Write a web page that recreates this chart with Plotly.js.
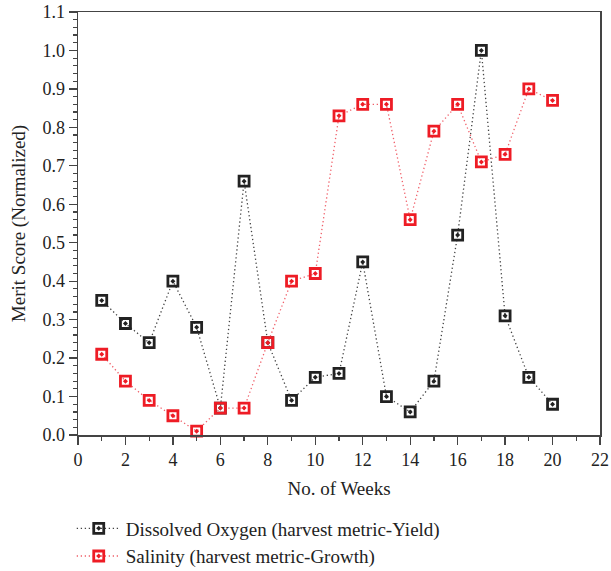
<!DOCTYPE html>
<html>
<head>
<meta charset="utf-8">
<script src="https://cdn.plot.ly/plotly-3.0.1.min.js"></script>
<style>
  html, body { margin: 0; padding: 0; background: #fff; }
  #chart { width: 611px; height: 571px; }
</style>
</head>
<body>
<div id="chart"></div>
<script>
// Weekly merit scores (normalized) for the two harvest metrics
const weeks = [1, 2, 3, 4, 5, 6, 7, 8, 9, 10, 11, 12, 13, 14, 15, 16, 17, 18, 19, 20];
const dissolvedOxygen = [0.35, 0.29, 0.24, 0.40, 0.28, 0.07, 0.66, 0.24, 0.09, 0.15,
                         0.16, 0.45, 0.10, 0.06, 0.14, 0.52, 1.00, 0.31, 0.15, 0.08];
const salinity = [0.21, 0.14, 0.09, 0.05, 0.01, 0.07, 0.07, 0.24, 0.40, 0.42,
                  0.83, 0.86, 0.86, 0.56, 0.79, 0.86, 0.71, 0.73, 0.90, 0.87];
const seriesNames = ['Dissolved Oxygen (harvest metric-Yield)', 'Salinity (harvest metric-Growth)'];
const xTickVals = [0, 2, 4, 6, 8, 10, 12, 14, 16, 18, 20, 22];
const yTickVals = [0, 0.1, 0.2, 0.3, 0.4, 0.5, 0.6, 0.7, 0.8, 0.9, 1.0, 1.1];

const serif = '"Liberation Serif", "Times New Roman", serif';

function series(y, name, color, lineColor) {
  return {
    x: weeks, y: y, name: name, type: 'scatter', mode: 'lines+markers',
    line: { color: lineColor, width: 1.3, dash: '1.3px,2.7px' },
    marker: { symbol: 'square-open-dot', size: 10, color: color, line: { color: color, width: 2.8 } },
    cliponaxis: false
  };
}

const traces = [
  series(dissolvedOxygen, seriesNames[0], '#222222', '#444444'),
  series(salinity, seriesNames[1], '#ee1c25', '#f0606a')
];

const axisCommon = {
  showgrid: false, zeroline: false, showline: true, mirror: true,
  linecolor: '#444', linewidth: 1.5,
  ticks: 'outside', ticklen: 8, tickwidth: 1.2, tickcolor: '#444',
  tickfont: { family: serif, size: 18, color: '#222' }
};

const layout = {
  width: 611, height: 571,
  margin: { l: 78, r: 11, t: 12, b: 136, autoexpand: false },
  paper_bgcolor: '#fff', plot_bgcolor: '#fff',
  font: { family: serif, color: '#222' },
  xaxis: Object.assign({}, axisCommon, {
    range: [0, 22], tickvals: xTickVals,
    ticktext: xTickVals.map(v => String(v)),
    minor: { dtick: 1, ticklen: 4, tickcolor: '#444', ticks: 'outside', showgrid: false },
    title: { text: 'No. of Weeks', font: { family: serif, size: 19, color: '#222' }, standoff: 12 }
  }),
  yaxis: Object.assign({}, axisCommon, {
    range: [0, 1.1], tickvals: yTickVals,
    ticktext: yTickVals.map(v => v.toFixed(1)),
    minor: { dtick: 0.02, ticklen: 4, tickcolor: '#444', ticks: 'outside', showgrid: false },
    title: { text: 'Merit Score (Normalized)', font: { family: serif, size: 19, color: '#222' }, standoff: 12 }
  }),
  legend: {
    x: -0.012, y: -0.176, xanchor: 'left', yanchor: 'top',
    orientation: 'v', bgcolor: 'rgba(0,0,0,0)',
    font: { family: serif, size: 19, color: '#222' },
    tracegroupgap: 0, itemwidth: 44
  },
  showlegend: true
};

Plotly.newPlot('chart', traces, layout, { displayModeBar: false, staticPlot: true });
</script>
</body>
</html>
